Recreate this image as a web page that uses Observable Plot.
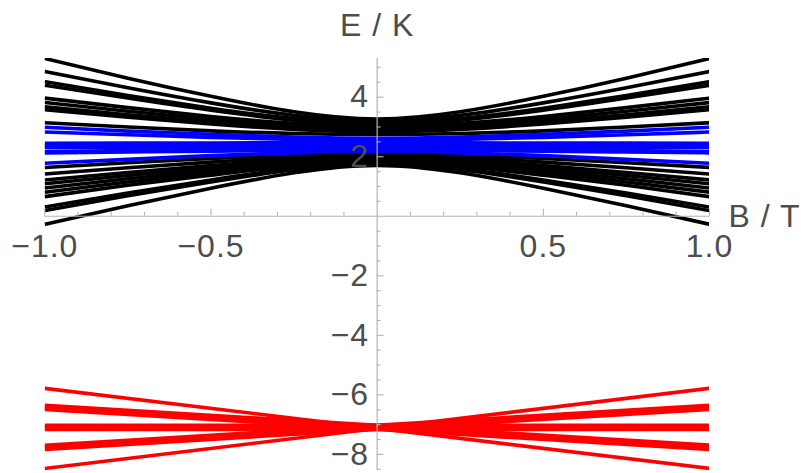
<!DOCTYPE html>
<html>
<head>
<meta charset="utf-8">
<script src="https://cdn.jsdelivr.net/npm/d3@7"></script>
<script src="https://cdn.jsdelivr.net/npm/@observablehq/plot@0.6"></script>
<style>
  html, body { margin: 0; padding: 0; background: #fff; }
</style>
</head>
<body>
<div id="chart"></div>
<script>
// Magnetic field samples (T) for B >= 0; the picture is symmetric in B
const bSamples = [0, 0.25, 0.5, 0.75, 1];

// Black levels: E (K) at each B sample
const blackLevels = [
  [3.27, 3.51, 4.03, 4.64, 5.30],
  [3.20, 3.39, 3.81, 4.32, 4.86],
  [3.13, 3.28, 3.63, 4.06, 4.52],
  [3.08, 3.23, 3.56, 3.97, 4.40],
  [3.02, 3.12, 3.35, 3.65, 3.97],
  [2.96, 3.05, 3.26, 3.53, 3.82],
  [2.90, 2.98, 3.17, 3.41, 3.68],
  [2.84, 2.92, 3.10, 3.33, 3.58],
  [2.75, 2.78, 2.87, 3.00, 3.14],
  [2.10, 2.05, 1.94, 1.80, 1.64],
  [2.04, 1.97, 1.82, 1.63, 1.42],
  [1.98, 1.90, 1.70, 1.47, 1.22],
  [1.93, 1.84, 1.63, 1.37, 1.09],
  [1.88, 1.78, 1.54, 1.26, 0.95],
  [1.84, 1.72, 1.46, 1.15, 0.81],
  [1.80, 1.68, 1.38, 1.04, 0.66],
  [1.77, 1.60, 1.22, 0.78, 0.31],
  [1.74, 1.56, 1.15, 0.69, 0.19],
  [1.71, 1.46, 0.94, 0.35, -0.27]
];

// Blue levels: E (K) at each B sample
const blueLevels = [
  [2.62, 2.66, 2.75, 2.86, 2.99],
  [2.55, 2.58, 2.65, 2.74, 2.83],
  [2.47, 2.47, 2.46, 2.46, 2.45],
  [2.40, 2.40, 2.39, 2.39, 2.38],
  [2.35, 2.34, 2.33, 2.32, 2.31],
  [2.28, 2.27, 2.24, 2.21, 2.17],
  [2.22, 2.21, 2.19, 2.16, 2.13],
  [2.18, 2.13, 2.04, 1.91, 1.78]
];

// Red levels: straight lines, E (K) at B = -1 and at B = +1
const redAtMinus1 = [-5.78, -8.47, -6.35, -6.42, -6.49, -7.69, -7.76, -7.83, -7.02, -7.09, -7.16];
const redAtPlus1  = [-8.47, -5.78, -7.69, -7.76, -7.83, -6.35, -6.42, -6.49, -7.02, -7.09, -7.16];

// Axes
const xMajorTicks = [-1, -0.5, 0.5, 1];
const xTickLabels = ["\u22121.0", "\u22120.5", "0.5", "1.0"];
const xMinorTicks = [-0.9, -0.8, -0.7, -0.6, -0.4, -0.3, -0.2, -0.1, 0.1, 0.2, 0.3, 0.4, 0.6, 0.7, 0.8, 0.9];
const yMajorTicks = [-8, -6, -4, -2, 2, 4];
const yTickLabels = ["\u22128", "\u22126", "\u22124", "\u22122", "2", "4"];
const yMinorTicks = [-8.5, -7.5, -7, -6.5, -5.5, -5, -4.5, -3.5, -3, -2.5, -1.5, -1, -0.5,
                     0.5, 1, 1.5, 2.5, 3, 3.5, 4.5, 5];
const xTitle = "B / T";
const yTitle = "E / K";
const xDomain = [-1, 1];
const yDomain = [-8.54, 5.30];

// Build rows (mirror the B >= 0 samples onto B <= 0)
function levelRows(levels, group) {
  const rows = [];
  levels.forEach((lv, i) => {
    for (let k = bSamples.length - 1; k >= 1; k--) rows.push({id: group + i, B: -bSamples[k], E: lv[k]});
    for (let k = 0; k < bSamples.length; k++) rows.push({id: group + i, B: bSamples[k], E: lv[k]});
  });
  return rows;
}
const blackRows = levelRows(blackLevels, "k");
const blueRows = levelRows(blueLevels, "b");
const redRows = [];
redAtMinus1.forEach((v, i) => {
  redRows.push({id: "r" + i, B: -1, E: v});
  redRows.push({id: "r" + i, B: 1, E: redAtPlus1[i]});
});

const axisColor = "#b4b4b4";
const labelColor = "#4d4d4d";
const font = "Liberation Sans, Arial, sans-serif";
const lw = 3.6;
const fs = 32;

const chart = Plot.plot({
  width: 803,
  height: 473,
  marginTop: 58,
  marginBottom: 3,
  marginLeft: 44.3,
  marginRight: 94,
  style: {fontFamily: font, background: "#fff", overflow: "visible", letterSpacing: "1px"},
  x: {domain: xDomain, axis: null},
  y: {domain: yDomain, axis: null},
  marks: [
    Plot.line(blackRows, {x: "B", y: "E", z: "id", stroke: "#000", strokeWidth: lw, curve: "natural", strokeLinecap: "butt", clip: true}),
    Plot.line(blueRows, {x: "B", y: "E", z: "id", stroke: "#0000ff", strokeWidth: lw, curve: "natural", strokeLinecap: "butt", clip: true}),
    Plot.line(redRows, {x: "B", y: "E", z: "id", stroke: "#ff0000", strokeWidth: lw, strokeLinecap: "butt", clip: true}),
    // axes through the origin
    Plot.ruleY([0], {stroke: axisColor, strokeWidth: 1.2}),
    Plot.ruleX([0], {stroke: axisColor, strokeWidth: 1.2}),
    Plot.ruleX(xMajorTicks, {x: d => d, y1: 0, y2: 0, insetTop: -7, stroke: axisColor, strokeWidth: 1.1}),
    Plot.ruleX(xMinorTicks, {x: d => d, y1: 0, y2: 0, insetTop: -4, stroke: axisColor, strokeWidth: 1.1}),
    Plot.ruleY(yMajorTicks, {y: d => d, x1: 0, x2: 0, insetRight: -7, stroke: axisColor, strokeWidth: 1.1}),
    Plot.ruleY(yMinorTicks, {y: d => d, x1: 0, x2: 0, insetRight: -4, stroke: axisColor, strokeWidth: 1.1}),
    Plot.text(xMajorTicks, {x: d => d, y: 0, text: (d, i) => xTickLabels[i], dy: 30, fontSize: fs, fill: labelColor}),
    Plot.text(yMajorTicks, {x: 0, y: d => d, text: (d, i) => yTickLabels[i], dx: -8, textAnchor: "end", fontSize: fs, fill: labelColor}),
    Plot.text([yTitle], {x: 0, y: yDomain[1], text: d => d, dy: -33, fontSize: fs, fill: labelColor}),
    Plot.text([xTitle], {x: xDomain[1], y: 0, text: d => d, dx: 19, textAnchor: "start", fontSize: fs, fill: labelColor})
  ]
});
document.getElementById("chart").appendChild(chart);
</script>
</body>
</html>
